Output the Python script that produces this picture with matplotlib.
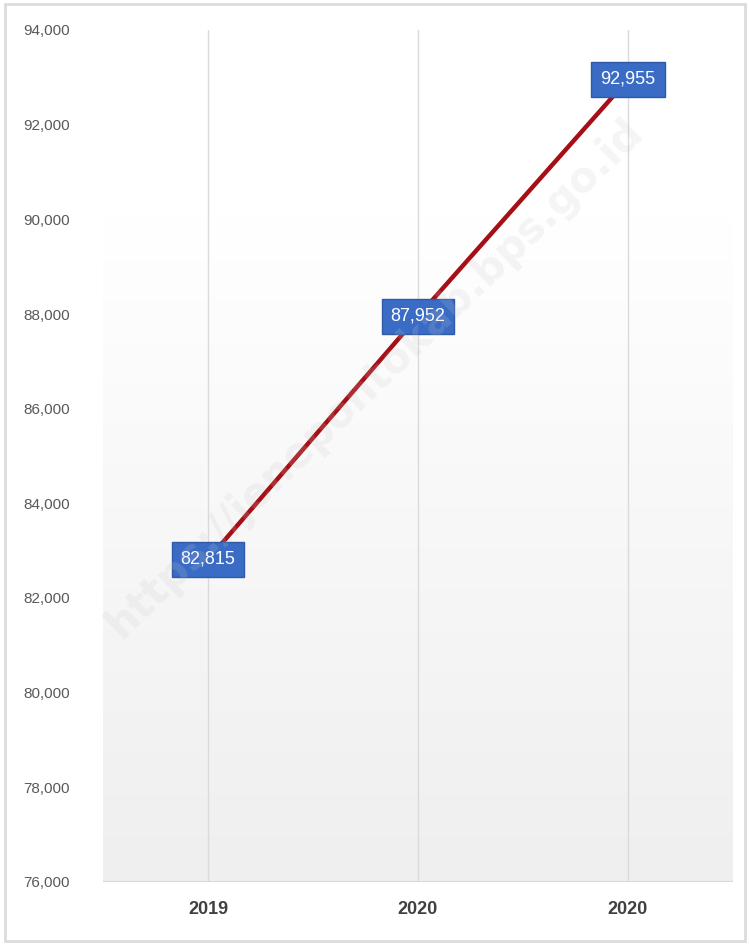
import numpy as np
import matplotlib.pyplot as plt
from matplotlib.patches import Rectangle

years = ["2019", "2020", "2020"]
values = [82815, 87952, 92955]
y_ticks = [76000, 78000, 80000, 82000, 84000, 86000, 88000, 90000, 92000, 94000]

fig = plt.figure(figsize=(7.49, 9.44), dpi=100)
ax = fig.add_axes([103 / 749, 1 - 882 / 944, 630 / 749, 852 / 944])

x = np.arange(len(years))
ax.set_xlim(-0.5, 2.5)
ax.set_ylim(76000, 94000)

# background gradient: light grey at bottom fading to white near the top
t = np.linspace(0.0, 1.0, 256)
shade = np.clip(t / 0.78, 0, 1)
level = 0.937 + (1.0 - 0.937) * shade
img = np.repeat(level.reshape(-1, 1, 1), 3, axis=2)
ax.imshow(img, aspect="auto", extent=(-0.5, 2.5, 76000, 94000),
          origin="lower", zorder=0, interpolation="bilinear")

for xi in x:
    ax.axvline(xi, color="#dadada", lw=1, zorder=1)
ax.axhline(76000, color="#d9d9d9", lw=1.5, zorder=1)

ax.plot(x, values, color="#a50f15", lw=3.2, zorder=3)

for xi, v in zip(x, values):
    ax.text(xi, v, f"{v:,}", ha="center", va="center", color="white",
            fontsize=13, family="Liberation Sans", zorder=5,
            bbox=dict(boxstyle="square,pad=0.5", fc="#3a6cc6", ec="#2f5aa8", lw=1))

ax.set_xticks(x)
ax.set_xticklabels(years, fontsize=13, fontweight="bold", color="#404040",
                   family="Liberation Sans")
ax.set_yticks(y_ticks)
ax.set_yticklabels([f"{t:,}" for t in y_ticks], fontsize=11, color="#595959",
                   family="Liberation Sans")
ax.tick_params(axis="both", length=0)
ax.tick_params(axis="x", pad=14)
ax.tick_params(axis="y", pad=24)
for s in ax.spines.values():
    s.set_visible(False)

# watermark
fig.text(0.5, 0.6, "https://jenepontokab.bps.go.id", rotation=44, ha="center",
         va="center", fontsize=30, fontweight="bold", color="#c8c8c8", alpha=0.18,
         family="DejaVu Sans")

# outer frame
fig.patches.append(Rectangle((5 / 749, 3 / 944), 740 / 749, 937 / 944,
                             transform=fig.transFigure, fill=False,
                             ec="#dcdcdc", lw=2))

fig.savefig("out.png", dpi=100)
